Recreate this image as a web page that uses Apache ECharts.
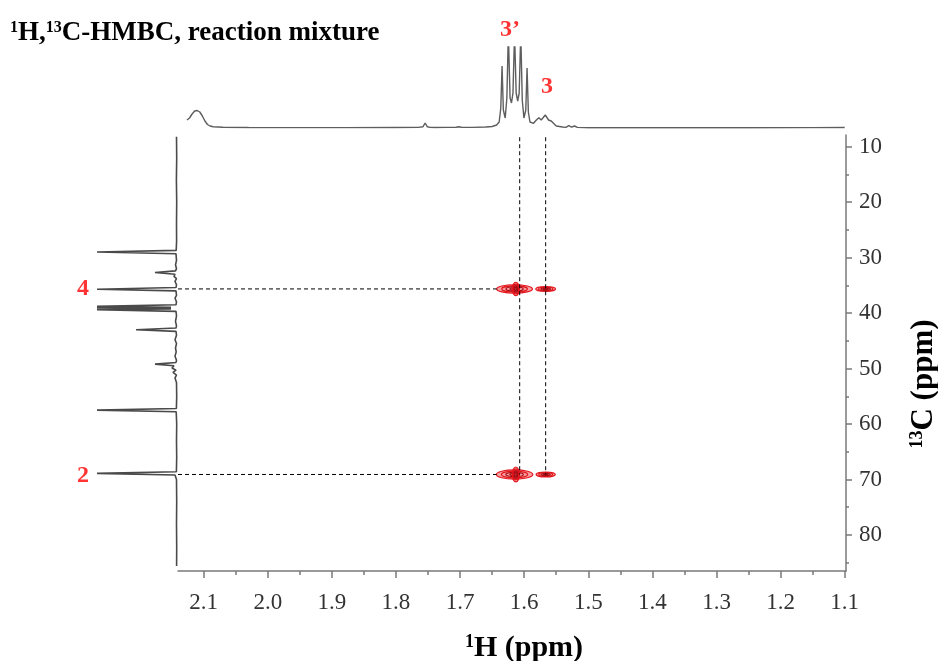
<!DOCTYPE html>
<html><head><meta charset="utf-8">
<script src="https://cdn.jsdelivr.net/npm/echarts@6/dist/echarts.min.js"></script>
<style>html,body{margin:0;padding:0;background:#fff}#c{width:938px;height:661px}</style>
</head><body><div id="c"></div>
<script>
// ---- axis ranges and ticks ----
const hRange = [1.098, 2.14];          // 1H (ppm), drawn inverted
const cRange = [7.9, 86.5];            // 13C (ppm), drawn inverted
const hTicks = [2.1, 2.0, 1.9, 1.8, 1.7, 1.6, 1.5, 1.4, 1.3, 1.2, 1.1];
const hMinorTicks = [2.05, 1.95, 1.85, 1.75, 1.65, 1.55, 1.45, 1.35, 1.25, 1.15];
const cTicks = [10, 20, 30, 40, 50, 60, 70, 80];
const cMinorTicks = [15, 25, 35, 45, 55, 65, 75, 85];

// ---- 1H projection (ppm, intensity) ----
const protonSpectrum = [
  [2.126, 8], [2.122, 10], [2.118, 14], [2.114, 17], [2.110, 17.5], [2.106, 16], [2.102, 12],
  [2.098, 7], [2.094, 3.5], [2.090, 2], [2.085, 1.2], [2.07, 0.8], [2.03, 0.5], [1.95, 0.4],
  [1.88, 0.4], [1.80, 0.5], [1.765, 0.6], [1.758, 1.2], [1.7545, 5], [1.751, 1.2], [1.747, 0.6],
  [1.744, 1.3], [1.740, 0.5], [1.72, 0.6], [1.706, 0.8], [1.702, 1.3], [1.698, 0.8], [1.68, 0.6],
  [1.66, 1.0], [1.650, 1.5], [1.643, 3], [1.639, 6], [1.6365, 20], [1.6345, 62], [1.6325, 18],
  [1.6296, 10], [1.627, 30], [1.6247, 95], [1.622, 30], [1.6198, 25], [1.6175, 35], [1.6150, 95],
  [1.6125, 35], [1.6101, 27], [1.6078, 35], [1.6053, 95], [1.603, 28], [1.6004, 10], [1.5975, 18],
  [1.5955, 60], [1.5935, 16], [1.591, 6], [1.588, 4], [1.5854, 4.7], [1.581, 8], [1.5771, 10.3],
  [1.5734, 8], [1.5671, 13], [1.5620, 8], [1.5578, 7], [1.5500, 2], [1.540, 1], [1.535, 0.6],
  [1.5304, 2.3], [1.526, 0.8], [1.5215, 2], [1.517, 0.6], [1.50, 0.3], [1.45, 0.2], [1.35, 0.3],
  [1.25, 0.2], [1.15, 0.4], [1.10, 0.5]
];

// ---- 13C projection (intensity, ppm) ----
const carbonSpectrum = [
  [0.5, 8.2], [0.3, 12], [0.6, 16], [0.3, 20], [0.5, 24], [0.4, 27], [0.8, 28.7], [80, 29.0],
  [1, 29.3], [0.5, 30.5], [1.5, 31.3], [0.5, 32.0], [1.5, 32.4], [22, 32.7], [2, 33.0], [3, 33.4],
  [0.5, 33.8], [2, 34.3], [0.5, 34.9], [1, 35.4], [80, 35.7], [1, 36.0], [0.5, 36.8], [2, 37.3],
  [0.5, 38.0], [1, 38.5], [80, 38.8], [6, 38.95], [80, 39.1], [6, 39.25], [80, 39.4], [1, 39.7],
  [0.5, 40.5], [1.5, 41.5], [0.5, 42.3], [1, 42.7], [41, 43.0], [1, 43.3], [0.5, 44], [2, 44.8],
  [0.5, 45.5], [1.5, 46.3], [0.8, 47], [2, 47.8], [0.5, 48.5], [1, 48.9], [22, 49.2], [3, 49.5],
  [5, 49.9], [1, 50.3], [4, 50.7], [0.5, 51.2], [2, 51.7], [0.5, 52.5], [0.3, 55], [0.6, 57.2],
  [80, 57.5], [0.8, 57.8], [0.3, 60], [0.5, 63], [0.3, 66], [0.6, 68.6], [80, 68.9], [2, 69.2],
  [0.5, 70], [0.3, 74], [0.5, 78], [0.3, 82], [0.4, 85.6]
];

// ---- HMBC cross peaks: [1H ppm, 13C ppm, width 1H, width 13C] ----
const crossPeaks = [
  [1.615, 35.65, 0.056, 1.5], [1.613, 35.65, 0.011, 2.4], [1.5665, 35.65, 0.031, 0.85],
  [1.615, 69.1, 0.057, 1.65], [1.613, 69.1, 0.011, 2.7], [1.5665, 69.1, 0.030, 0.9]
];
const contourLevels = [1, 0.72, 0.48, 0.26];

// ---- correlation guide lines ----
const correlationH = [1.607, 1.5665];
const correlationC = [35.65, 69.1];
const guideTopC = 8.3;
const guideLeftH = 2.14;
const guideRightH = 1.643;

// ---- assignment labels ----
const hLabels = [{ name: '3\u2019', h: 1.622, i: 98 }, { name: '3', h: 1.5643, i: 41 }];
const cLabels = [{ name: '4', c: 35.65, i: 94 }, { name: '2', c: 69.3, i: 94 }];

const SERIF = '"Liberation Serif", "Times New Roman", serif';
const axisGray = '#7a7a7a';
const labelRed = '#ff0000';

const series = [];

series.push({
  type: 'line', xAxisIndex: 2, yAxisIndex: 2, data: protonSpectrum, showSymbol: false,
  lineStyle: { color: '#5e5e5e', width: 1.4 }, clip: true, silent: true, animation: false
});
series.push({
  type: 'line', xAxisIndex: 3, yAxisIndex: 3, data: carbonSpectrum, showSymbol: false,
  lineStyle: { color: '#4a4a4a', width: 1.6 }, clip: true, silent: true, animation: false
});
correlationH.forEach(h => series.push({
  type: 'line', xAxisIndex: 0, yAxisIndex: 0, showSymbol: false, silent: true, animation: false,
  data: [[h, guideTopC], [h, correlationC[correlationC.length - 1]]],
  lineStyle: { color: '#000', width: 1, type: [4, 3] }
}));
correlationC.forEach(c => series.push({
  type: 'line', xAxisIndex: 0, yAxisIndex: 0, showSymbol: false, silent: true, animation: false,
  data: [[guideLeftH, c], [guideRightH, c]],
  lineStyle: { color: '#000', width: 1, type: [4, 3] }
}));
series.push({
  type: 'custom', xAxisIndex: 0, yAxisIndex: 0, data: crossPeaks, encode: { x: 0, y: 1 },
  animation: false, silent: true,
  renderItem: function (params, api) {
    const c = api.coord([api.value(0), api.value(1)]);
    const e = api.coord([api.value(0) - api.value(2) / 2, api.value(1) + api.value(3) / 2]);
    const rx = Math.abs(e[0] - c[0]), ry = Math.abs(e[1] - c[1]);
    return {
      type: 'group',
      children: contourLevels.map((f, k) => ({
        type: 'ellipse',
        shape: { cx: c[0], cy: c[1], rx: rx * f, ry: ry * f },
        style: {
          fill: k === 0 ? 'rgba(238,70,70,0.5)' : 'none',
          stroke: k < 2 ? '#e3151c' : '#a80d15',
          lineWidth: 1.2
        }
      }))
    };
  }
});
series.push({
  type: 'scatter', xAxisIndex: 2, yAxisIndex: 2, clip: false, symbolSize: 0, silent: true, animation: false,
  data: hLabels.map(d => ({ name: d.name, value: [d.h, d.i] })),
  label: { show: true, position: 'inside', formatter: '{b}', color: labelRed, fontFamily: SERIF, fontWeight: 'bold', fontSize: 24 }
});
series.push({
  type: 'scatter', xAxisIndex: 3, yAxisIndex: 3, clip: false, symbolSize: 0, silent: true, animation: false,
  data: cLabels.map(d => ({ name: d.name, value: [d.i, d.c] })),
  label: { show: true, position: 'inside', formatter: '{b}', color: labelRed, fontFamily: SERIF, fontWeight: 'bold', fontSize: 24 }
});

const option = {
  backgroundColor: '#fff',
  animation: false,
  title: {
    text: '{s|1}H,{s|13}C-HMBC, reaction mixture',
    left: 5, top: 15,
    textStyle: {
      fontFamily: SERIF, fontWeight: 'bold', fontSize: 27, color: '#000',
      rich: { s: { fontSize: 16, fontWeight: 'bold', fontFamily: SERIF, color: '#000', verticalAlign: 'top' } }
    }
  },
  grid: [
    { left: 178, right: 92, top: 135, bottom: 90, outerBoundsMode: 'none', containLabel: false },
    { left: 178, right: 92, top: 47, height: 81, outerBoundsMode: 'none', containLabel: false },
    { left: 97, width: 80, top: 135, bottom: 90, outerBoundsMode: 'none', containLabel: false }
  ],
  xAxis: [
    {
      gridIndex: 0, type: 'value', inverse: true, min: hRange[0], max: hRange[1], position: 'bottom',
      splitLine: { show: false },
      axisLine: { show: true, lineStyle: { color: axisGray, width: 1.5 } },
      axisTick: { show: true, length: 7, customValues: hTicks, lineStyle: { color: axisGray, width: 1.5 } },
      axisLabel: { customValues: hTicks, formatter: v => v.toFixed(1), margin: 20, fontFamily: SERIF, fontSize: 23, color: '#333' },
      name: '{s|1}H (ppm)', nameLocation: 'middle', nameGap: 62,
      nameTextStyle: { fontFamily: SERIF, fontWeight: 'bold', fontSize: 30, color: '#000', padding: [0, 0, 0, 24],
        rich: { s: { fontSize: 18, fontWeight: 'bold', fontFamily: SERIF, color: '#000', verticalAlign: 'top' } } }
    },
    {
      gridIndex: 0, type: 'value', inverse: true, min: hRange[0], max: hRange[1], position: 'bottom',
      splitLine: { show: false }, axisLine: { show: false }, axisLabel: { show: false },
      axisTick: { show: true, length: 4, customValues: hMinorTicks, lineStyle: { color: axisGray, width: 1.5 } }
    },
    { gridIndex: 1, type: 'value', inverse: true, min: hRange[0], max: hRange[1], show: false },
    { gridIndex: 2, type: 'value', inverse: true, min: 0, max: 80, show: false }
  ],
  yAxis: [
    {
      gridIndex: 0, type: 'value', inverse: true, min: cRange[0], max: cRange[1], position: 'right',
      splitLine: { show: false },
      axisLine: { show: true, lineStyle: { color: axisGray, width: 1.5 } },
      axisTick: { show: true, length: 6, customValues: cTicks, lineStyle: { color: axisGray, width: 1.5 } },
      axisLabel: { customValues: cTicks, margin: 13, fontFamily: SERIF, fontSize: 23, color: '#333' },
      name: '{s|13}C (ppm)', nameLocation: 'middle', nameGap: 62, nameRotate: 90,
      nameTextStyle: { fontFamily: SERIF, fontWeight: 'bold', fontSize: 31, color: '#000', padding: [0, 62, 0, 0],
        rich: { s: { fontSize: 18, fontWeight: 'bold', fontFamily: SERIF, color: '#000', verticalAlign: 'top' } } }
    },
    {
      gridIndex: 0, type: 'value', inverse: true, min: cRange[0], max: cRange[1], position: 'right',
      splitLine: { show: false }, axisLine: { show: false }, axisLabel: { show: false },
      axisTick: { show: true, length: 3, customValues: cMinorTicks, lineStyle: { color: axisGray, width: 1.5 } }
    },
    { gridIndex: 1, type: 'value', min: 0, max: 81, show: false },
    { gridIndex: 2, type: 'value', inverse: true, min: cRange[0], max: cRange[1], show: false }
  ],
  series: series
};

const chart = echarts.init(document.getElementById('c'), null, { renderer: 'canvas' });
chart.setOption(option);
</script>
</body></html>
